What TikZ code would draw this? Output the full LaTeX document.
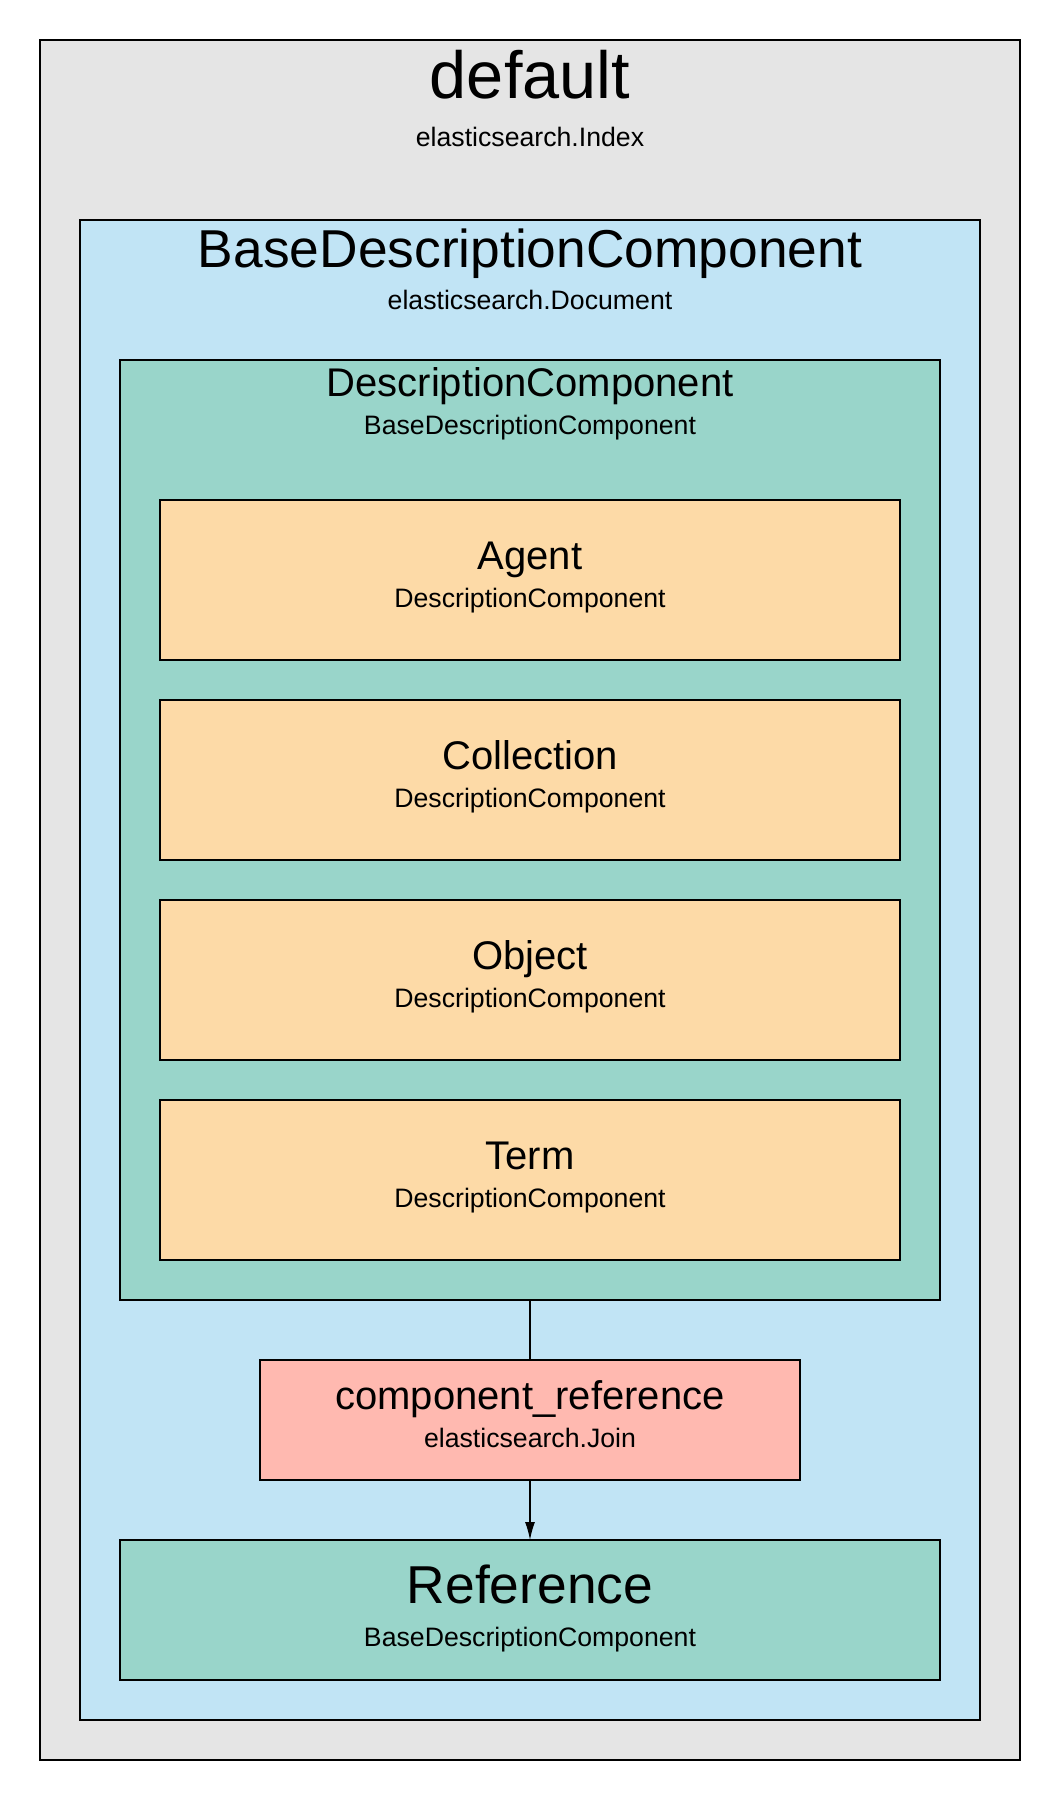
\documentclass[tikz,border=0pt]{standalone}
\usepackage{fontspec}
\setmainfont{Liberation Sans}
\usetikzlibrary{arrows.meta,calc}
\definecolor{indexgray}{RGB}{229,229,229}
\definecolor{docblue}{RGB}{193,228,245}
\definecolor{compgreen}{RGB}{153,213,202}
\definecolor{leaforange}{RGB}{253,218,167}
\definecolor{joinpink}{RGB}{255,185,176}
\tikzset{
	box/.style={draw=black,line width=1pt,inner sep=0pt,outer sep=0pt},
	leaf/.style={box,fill=leaforange,minimum width=555pt,minimum height=120pt},
	txt/.style={anchor=base,inner sep=0pt},
	big/.style={txt,font=\fontsize{40}{48}\selectfont},
	mid/.style={txt,font=\fontsize{30}{36}\selectfont},
	small/.style={txt,font=\fontsize{20}{24}\selectfont}
}

\begin{document}
\begin{tikzpicture}[x=0.75pt,y=-0.75pt]
\useasboundingbox (0,0) rectangle (1060,1800);
% containers
\node[box,fill=indexgray,minimum width=735pt,minimum height=1290pt] (index) at (530,900) {};
\node[txt,font=\fontsize{50}{60}\selectfont] (index-t) at (530,98) {default};
\node[small] (index-s) at (530,146) {elasticsearch.Index};
%
\node[box,fill=docblue,minimum width=675pt,minimum height=1125pt] (document) at (530,970) {};
\node[big] (document-t) at (530,267) {BaseDescriptionComponent};
\node[small] (document-s) at (530,309) {elasticsearch.Document};
%
\node[box,fill=compgreen,minimum width=615pt,minimum height=705pt] (desccomp) at (530,830) {};
\node[mid] (desccomp-t) at (530,396) {DescriptionComponent};
\node[small] (desccomp-s) at (530,434) {BaseDescriptionComponent};
% leaves
\foreach \name/\label/\y in {agent/Agent/580,collection/Collection/780,object/Object/980,term/Term/1180}{
	\node[leaf] (\name) at (530,\y) {};
	\node[mid] (\name-t) at ($(\name.north)+(0,69)$) {\label};
	\node[small] (\name-s) at ($(\name.north)+(0,107)$) {DescriptionComponent};
}
% join and reference
\node[box,fill=joinpink,minimum width=405pt,minimum height=90pt] (compref) at (530,1420) {};
\node[mid] (compref-t) at (530,1409) {component\_reference};
\node[small] (compref-s) at (530,1447) {elasticsearch.Join};
%
\node[box,fill=compgreen,minimum width=615pt,minimum height=105pt] (reference) at (530,1610) {};
\node[big] (reference-t) at (530,1603) {Reference};
\node[small] (reference-s) at (530,1646) {BaseDescriptionComponent};
%
\draw[line width=1pt] (desccomp) -- (compref);
\draw[line width=1pt,-{Latex[length=13.5pt,width=7.5pt]}] (compref) -- (reference);
\end{tikzpicture}
\end{document}
